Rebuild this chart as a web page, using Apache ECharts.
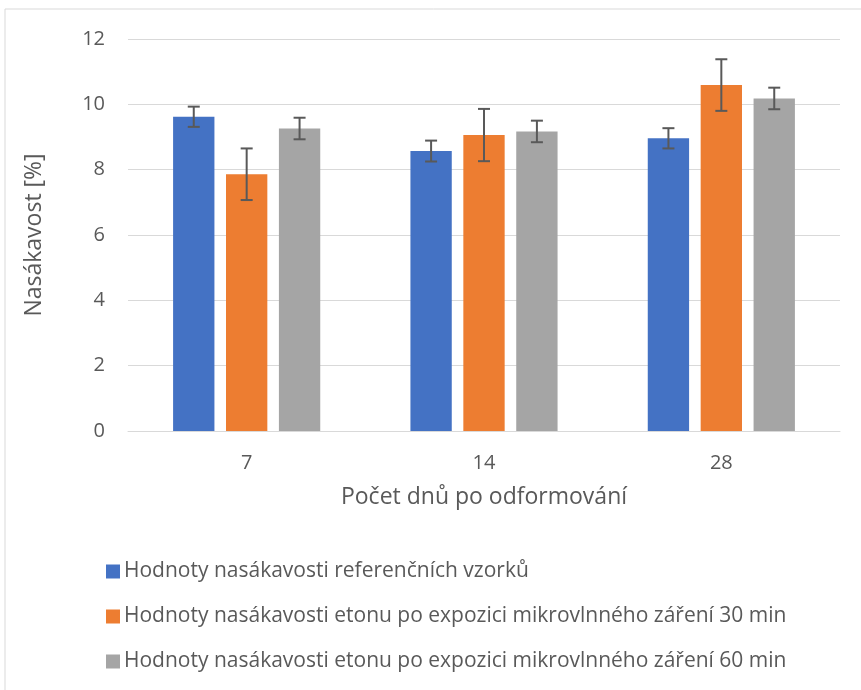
<!DOCTYPE html>
<html><head><meta charset="utf-8">
<script src="https://cdn.jsdelivr.net/npm/echarts@6/dist/echarts.min.js"></script>
<style>html,body{margin:0;padding:0;background:#fff}#c{width:861px;height:690px}</style>
</head><body><div id="c"></div>
<script>
var categories = ['7', '14', '28'];
var seriesNames = [
  'Hodnoty nasákavosti referenčních vzorků',
  'Hodnoty nasákavosti etonu po expozici mikrovlnného záření 30 min',
  'Hodnoty nasákavosti etonu po expozici mikrovlnného záření 60 min'
];
var refValues = [9.62, 8.57, 8.96];
var min30Values = [7.86, 9.06, 10.59];
var min60Values = [9.26, 9.17, 10.18];
var refErr = [0.31, 0.32, 0.31];
var min30Err = [0.79, 0.80, 0.79];
var min60Err = [0.33, 0.33, 0.33];
var colors = ['#4472C4', '#ED7D31', '#A5A5A5'];

var values = [refValues, min30Values, min60Values];
var errs = [refErr, min30Err, min60Err];
var CAT_GAP = 0.38, BAR_GAP = 0.28, N = 3;
var FONT = 'Open Sans';

var chart = echarts.init(document.getElementById('c'));
var series = [];
values.forEach(function (v, i) {
  series.push({
    name: seriesNames[i], type: 'bar', data: v,
    itemStyle: { color: colors[i] },
    barCategoryGap: (CAT_GAP * 100) + '%', barGap: (BAR_GAP * 100) + '%'
  });
});
values.forEach(function (v, i) {
  series.push({
    type: 'custom', silent: true, z: 5,
    data: v.map(function (val, k) { return [k, val, errs[i][k]]; }),
    renderItem: function (params, api) {
      var k = api.value(0), val = api.value(1), e = api.value(2);
      var cw = api.size([1, 0])[0];
      var usable = cw * (1 - CAT_GAP);
      var bw = usable / (N + (N - 1) * BAR_GAP);
      var off = -usable / 2 + bw / 2 + i * bw * (1 + BAR_GAP);
      var top = api.coord([k, val + e]);
      var bot = api.coord([k, val - e]);
      var x = top[0] + off, h = 6;
      var st = { stroke: '#595959', lineWidth: 2 };
      return { type: 'group', children: [
        { type: 'line', shape: { x1: x, y1: top[1], x2: x, y2: bot[1] }, style: st },
        { type: 'line', shape: { x1: x - h, y1: top[1], x2: x + h, y2: top[1] }, style: st },
        { type: 'line', shape: { x1: x - h, y1: bot[1], x2: x + h, y2: bot[1] }, style: st }
      ]};
    }
  });
});

chart.setOption({
  animation: false,
  textStyle: { fontFamily: FONT },
  graphic: [{ type: 'rect', shape: { x: 5, y: 9, width: 880, height: 700 },
    style: { fill: 'none', stroke: '#d9d9d9', lineWidth: 1 } }],
  grid: { left: 128, right: 21, top: 39, bottom: 259 },
  legend: {
    orient: 'vertical', left: 101, top: 556, itemGap: 24,
    itemWidth: 14, itemHeight: 14, icon: 'rect',
    data: seriesNames,
    textStyle: { color: '#595959', fontSize: 21, fontFamily: FONT, padding: [0, 0, 0, -1] }
  },
  xAxis: {
    type: 'category', data: categories,
    axisLine: { lineStyle: { color: '#d9d9d9', width: 1 } },
    axisTick: { show: false },
    axisLabel: { color: '#595959', fontSize: 20, margin: 22 },
    name: 'Počet dnů po odformování', nameLocation: 'middle', nameGap: 55,
    nameTextStyle: { color: '#595959', fontSize: 23 }
  },
  yAxis: {
    type: 'value', min: 0, max: 12, interval: 2,
    axisLine: { show: false }, axisTick: { show: false },
    splitLine: { lineStyle: { color: '#d9d9d9', width: 1 } },
    axisLabel: { color: '#595959', fontSize: 20, margin: 23 },
    name: 'Nasákavost [%]', nameLocation: 'middle', nameGap: 82, nameRotate: 90,
    nameTextStyle: { color: '#595959', fontSize: 23 }
  },
  series: series
});
</script></body></html>
